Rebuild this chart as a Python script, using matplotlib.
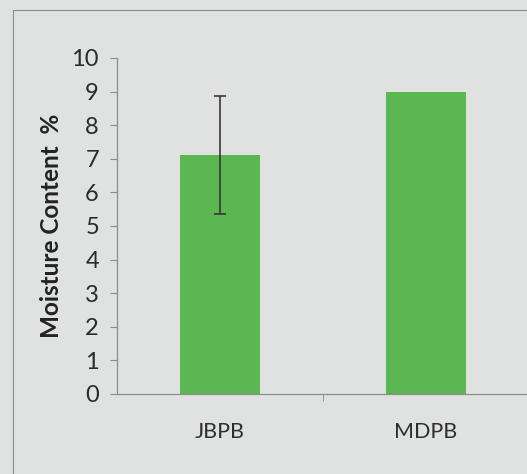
import matplotlib
matplotlib.use("Agg")
import matplotlib.pyplot as plt
from matplotlib.patches import Rectangle

categories = ["JBPB", "MDPB"]
values = [7.12, 9.0]
errors = [1.76, 0.0]
yticks = list(range(0, 11))

W, H = 527, 474
fig = plt.figure(figsize=(W / 100, H / 100), dpi=100)
bg = "#dfe2e1"
fig.patch.set_facecolor(bg)

# chart area border
fig.patches.append(Rectangle((13 / W, -0.1), 1.2, (H - 10) / H + 0.1,
                             transform=fig.transFigure, fill=False,
                             edgecolor="#8a8d8c", linewidth=0.8))

ax = fig.add_axes([117 / W, 80 / H, 412 / W, 336 / H])
ax.set_facecolor(bg)
x = list(range(len(categories)))
ax.bar(x, values, width=0.39, color="#5cb652", zorder=2)
ax.errorbar([x[0]], [values[0]], yerr=[errors[0]], fmt="none",
            ecolor="#3d3434", elinewidth=1.2, capsize=4, capthick=1.2, zorder=3)

ax.set_xlim(-0.5, 1.5)
ax.set_ylim(0, 10)
ax.set_yticks(yticks)
ax.set_xticks(x)
ax.set_xticklabels(categories)
ax.set_xticks([0.5], minor=True)
ax.tick_params(axis="x", which="major", length=0, pad=20, labelsize=15.5, labelcolor="#2e2e2e")
ax.tick_params(axis="x", which="minor", length=5, color="#8a8d8c", direction="out")
ax.tick_params(axis="y", length=5, color="#8a8d8c", labelsize=17, labelcolor="#2a2a2a", pad=8)
for lab in ax.get_xticklabels() + ax.get_yticklabels():
    lab.set_family(["Lato", "DejaVu Sans"])
for s in ["top", "right"]:
    ax.spines[s].set_visible(False)
for s in ["left", "bottom"]:
    ax.spines[s].set_color("#8a8d8c")
    ax.spines[s].set_linewidth(0.9)
ax.set_ylabel("Moisture Content  %", fontsize=17.5, fontweight="bold",
              family=["Lato", "DejaVu Sans"], color="#222222", labelpad=6)

fig.savefig("out.png", dpi=100, facecolor=bg)
